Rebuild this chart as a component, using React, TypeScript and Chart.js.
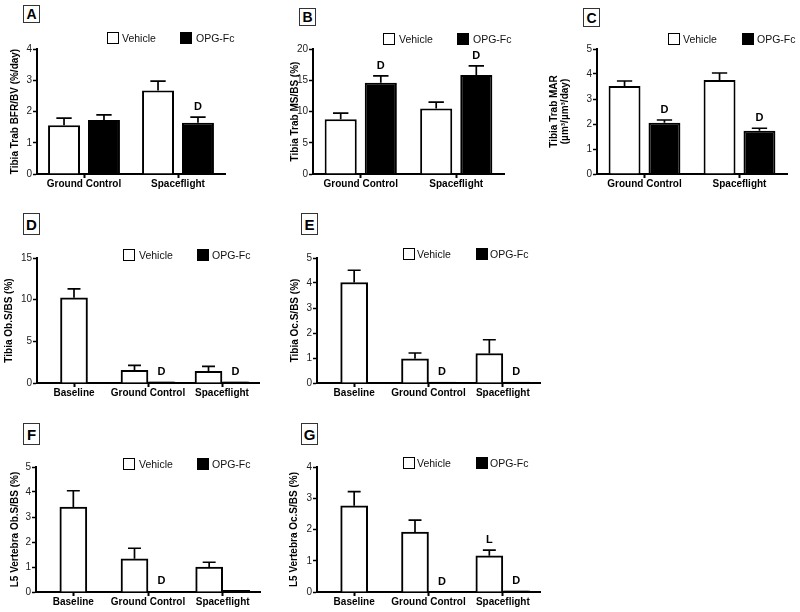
import React, { useEffect, useRef } from "react";
import { Chart, registerables } from "chart.js";

Chart.register(...registerables);

const FONT = "'Liberation Sans', Arial, Helvetica, sans-serif";

// ---------- data ----------
const catsTop = ["Ground Control", "Spaceflight"];
const catsBottom = ["Baseline", "Ground Control", "Spaceflight"];
const seriesNames = ["Vehicle", "OPG-Fc"];

// A: Tibia Trab BFR/BV (%/day)
const aVehicle = [1.56, 2.67];
const aVehicleErr = [0.23, 0.3];
const aOpg = [1.73, 1.64];
const aOpgErr = [0.16, 0.18];
const aOpgMarks = ["", "D"];

// B: Tibia Trab MS/BS (%)
const bVehicle = [8.75, 10.5];
const bVehicleErr = [1.0, 1.0];
const bOpg = [14.6, 15.85];
const bOpgErr = [1.1, 1.45];
const bOpgMarks = ["D", "D"];

// C: Tibia Trab MAR
const cVehicle = [3.52, 3.76];
const cVehicleErr = [0.2, 0.28];
const cOpg = [2.05, 1.73];
const cOpgErr = [0.11, 0.1];
const cOpgMarks = ["D", "D"];

// D: Tibia Ob.S/BS (%)
const dVehicle = [10.23, 1.51, 1.39];
const dVehicleErr = [1.07, 0.6, 0.6];
const dOpg = [null, 0.15, 0.15];
const dOpgMarks = ["", "D", "D"];

// E: Tibia Oc.S/BS (%)
const eVehicle = [4.02, 0.97, 1.18];
const eVehicleErr = [0.49, 0.23, 0.55];
const eOpg = [null, 0.04, 0.04];
const eOpgMarks = ["", "D", "D"];

// F: L5 Vertebra Ob.S/BS (%)
const fVehicle = [3.4, 1.33, 1.0];
const fVehicleErr = [0.65, 0.42, 0.19];
const fOpg = [null, 0.03, 0.07];
const fOpgMarks = ["", "D", ""];

// G: L5 Vertebra Oc.S/BS (%)
const gVehicle = [2.76, 1.92, 1.16];
const gVehicleErr = [0.45, 0.38, 0.18];
const gVehicleMarks = ["", "", "L"];
const gOpg = [null, 0, 0.04];
const gOpgMarks = ["", "D", "D"];

// ---------- plugin: error bars + significance letters ----------
const errorBarPlugin = {
  id: "errorBars",
  afterDatasetsDraw(chart: any) {
    const ctx = chart.ctx;
    const ys = chart.scales.y;
    chart.data.datasets.forEach((ds: any, i: number) => {
      const meta = chart.getDatasetMeta(i);
      const errs = ds.errors || [];
      const marks = ds.marks || [];
      meta.data.forEach((el: any, j: number) => {
        const v = ds.data[j];
        if (v == null) return;
        const { x, width } = el.getProps(["x", "width"], true);
        const base = ys.getPixelForValue(v);
        let top = base;
        const e = errs[j];
        if (e) {
          top = ys.getPixelForValue(v + e);
          ctx.save();
          ctx.strokeStyle = "#000";
          ctx.lineWidth = 1.7;
          ctx.beginPath();
          ctx.moveTo(x, base);
          ctx.lineTo(x, top);
          const cw = width * 0.24;
          ctx.moveTo(x - cw, top);
          ctx.lineTo(x + cw, top);
          ctx.stroke();
          ctx.restore();
        }
        const m = marks[j];
        if (m) {
          ctx.save();
          ctx.fillStyle = "#000";
          ctx.font = `bold 11px ${FONT}`;
          ctx.textAlign = "center";
          ctx.textBaseline = "middle";
          ctx.fillText(m, x, top - 10);
          ctx.restore();
        }
      });
    });
  },
};

type Cfg = {
  cats: string[];
  area: { x0: number; x1: number; y0: number; y1: number };
  canvas: { left: number; top: number; w: number; h: number };
  titleX: number;
  title: string | string[];
  max: number;
  step: number;
  vehicle: (number | null)[];
  vehicleErr: number[];
  vehicleMarks?: string[];
  opg: (number | null)[];
  opgErr?: number[];
  opgMarks?: string[];
  barThickness?: number;
  catPct?: number;
  barPct?: number;
};

function BarPanel({ cfg }: { cfg: Cfg }) {
  const ref = useRef<HTMLCanvasElement>(null);
  const c = cfg.canvas;
  useEffect(() => {
    const a = cfg.area;
    const lh = 11;
    const barOpts: any = cfg.barThickness
      ? { barThickness: cfg.barThickness, skipNull: true }
      : { categoryPercentage: cfg.catPct, barPercentage: cfg.barPct };
    const chart = new Chart(ref.current as HTMLCanvasElement, {
      type: "bar",
      data: {
        labels: cfg.cats,
        datasets: [
          {
            label: seriesNames[0],
            data: cfg.vehicle,
            errors: cfg.vehicleErr,
            marks: cfg.vehicleMarks,
            backgroundColor: "#ffffff",
            borderColor: "#000000",
            borderWidth: 2,
            ...barOpts,
          } as any,
          {
            label: seriesNames[1],
            data: cfg.opg,
            errors: cfg.opgErr,
            marks: cfg.opgMarks,
            backgroundColor: "#000000",
            borderColor: "#000000",
            borderWidth: 2,
            ...barOpts,
          } as any,
        ],
      },
      options: {
        responsive: false,
        maintainAspectRatio: false,
        animation: false,
        devicePixelRatio: 1,
        layout: {
          padding: {
            left: 0,
            top: a.y0 - c.top,
            right: c.left + c.w - a.x1,
            bottom: 0,
          },
        },
        plugins: {
          legend: { display: false },
          tooltip: { enabled: false },
        },
        scales: {
          x: {
            type: "category",
            offset: true,
            grid: {
              display: true,
              offset: false,
              drawOnChartArea: false,
              drawTicks: true,
              tickLength: 4,
              tickColor: "#000",
              tickWidth: 2,
            },
            border: { display: true, color: "#000", width: 2 },
            ticks: {
              font: { family: FONT, size: 10, weight: "bold" },
              color: "#000",
              padding: 0,
              maxRotation: 0,
              minRotation: 0,
              autoSkip: false,
            },
            afterFit: (s: any) => {
              s.height = c.top + c.h - a.y1;
            },
          },
          y: {
            min: 0,
            max: cfg.max,
            ticks: {
              stepSize: cfg.step,
              font: { family: FONT, size: 10 },
              color: "#222",
              padding: 1,
            },
            grid: {
              drawOnChartArea: false,
              drawTicks: true,
              tickLength: 4,
              tickColor: "#000",
              tickWidth: 1.5,
            },
            border: { display: true, color: "#000", width: 2 },
            title: {
              display: true,
              text: cfg.title,
              color: "#000",
              font: { family: FONT, size: 10, weight: "bold", lineHeight: lh / 10 },
              padding: { top: cfg.titleX - c.left - lh / 2, bottom: 0 },
            },
            afterFit: (s: any) => {
              s.width = a.x0 - c.left;
            },
          },
        },
      } as any,
      plugins: [errorBarPlugin],
    });
    return () => chart.destroy();
  }, []);
  return (
    <canvas
      ref={ref}
      width={c.w}
      height={c.h}
      style={{ position: "absolute", left: c.left, top: c.top, width: c.w, height: c.h }}
    />
  );
}

function PanelLetter({ ch, left, top, w, h, size }: any) {
  return (
    <div
      style={{
        position: "absolute",
        left,
        top,
        width: w,
        height: h,
        boxSizing: "border-box",
        border: "1px solid #333",
        display: "flex",
        alignItems: "center",
        justifyContent: "center",
        fontFamily: FONT,
        fontWeight: "bold",
        fontSize: size,
        color: "#000",
        lineHeight: 1,
      }}
    >
      {ch}
    </div>
  );
}

function Legend({ top, b1, t1, b2, t2 }: any) {
  const box = (left: number, fill: string) => (
    <div
      style={{
        position: "absolute",
        left,
        top,
        width: 12,
        height: 12,
        boxSizing: "border-box",
        border: "1.5px solid #000",
        background: fill,
      }}
    />
  );
  const txt = (left: number, s: string) => (
    <div
      style={{
        position: "absolute",
        left,
        top: top - 1,
        height: 14,
        lineHeight: "14px",
        fontFamily: FONT,
        fontSize: 10.5,
        color: "#111",
        whiteSpace: "nowrap",
      }}
    >
      {s}
    </div>
  );
  return (
    <>
      {box(b1, "#fff")}
      {txt(t1, seriesNames[0])}
      {box(b2, "#000")}
      {txt(t2, seriesNames[1])}
    </>
  );
}

const panels: Cfg[] = [
  {
    cats: catsTop,
    area: { x0: 37, x1: 225, y0: 49, y1: 174 },
    canvas: { left: 0, top: 40, w: 250, h: 160 },
    titleX: 15,
    title: "Tibia Trab BFR/BV (%/day)",
    max: 4,
    step: 1,
    vehicle: aVehicle,
    vehicleErr: aVehicleErr,
    opg: aOpg,
    opgErr: aOpgErr,
    opgMarks: aOpgMarks,
    catPct: 0.85,
    barPct: 0.8,
  },
  {
    cats: catsTop,
    area: { x0: 313, x1: 504, y0: 49, y1: 174 },
    canvas: { left: 262, top: 40, w: 260, h: 160 },
    titleX: 295,
    title: "Tibia Trab MS/BS (%)",
    max: 20,
    step: 5,
    vehicle: bVehicle,
    vehicleErr: bVehicleErr,
    opg: bOpg,
    opgErr: bOpgErr,
    opgMarks: bOpgMarks,
    catPct: 0.84,
    barPct: 0.8,
  },
  {
    cats: catsTop,
    area: { x0: 597, x1: 787, y0: 49, y1: 174 },
    canvas: { left: 540, top: 40, w: 258, h: 160 },
    titleX: 554,
    title: ["Tibia Trab MAR", "(µm³/µm³/day)"],
    max: 5,
    step: 1,
    vehicle: cVehicle,
    vehicleErr: cVehicleErr,
    opg: cOpg,
    opgErr: cOpgErr,
    opgMarks: cOpgMarks,
    catPct: 0.84,
    barPct: 0.8,
  },
  {
    cats: catsBottom,
    area: { x0: 37, x1: 259, y0: 258, y1: 383 },
    canvas: { left: 0, top: 250, w: 275, h: 160 },
    titleX: 9,
    title: "Tibia Ob.S/BS (%)",
    max: 15,
    step: 5,
    vehicle: dVehicle,
    vehicleErr: dVehicleErr,
    opg: dOpg,
    opgMarks: dOpgMarks,
    barThickness: 27,
  },
  {
    cats: catsBottom,
    area: { x0: 317, x1: 540, y0: 258, y1: 383 },
    canvas: { left: 280, top: 250, w: 275, h: 160 },
    titleX: 295,
    title: "Tibia Oc.S/BS (%)",
    max: 5,
    step: 1,
    vehicle: eVehicle,
    vehicleErr: eVehicleErr,
    opg: eOpg,
    opgMarks: eOpgMarks,
    barThickness: 27,
  },
  {
    cats: catsBottom,
    area: { x0: 36, x1: 260, y0: 467, y1: 592 },
    canvas: { left: 0, top: 460, w: 275, h: 152 },
    titleX: 15,
    title: "L5 Vertebra Ob.S/BS (%)",
    max: 5,
    step: 1,
    vehicle: fVehicle,
    vehicleErr: fVehicleErr,
    opg: fOpg,
    opgMarks: fOpgMarks,
    barThickness: 27,
  },
  {
    cats: catsBottom,
    area: { x0: 317, x1: 540, y0: 467, y1: 592 },
    canvas: { left: 280, top: 460, w: 275, h: 152 },
    titleX: 294,
    title: "L5 Vertebra Oc.S/BS (%)",
    max: 4,
    step: 1,
    vehicle: gVehicle,
    vehicleErr: gVehicleErr,
    vehicleMarks: gVehicleMarks,
    opg: gOpg,
    opgMarks: gOpgMarks,
    barThickness: 27,
  },
];

export default function App() {
  return (
    <div
      style={{
        position: "absolute",
        left: 0,
        top: 0,
        width: 800,
        height: 612,
        background: "#fff",
        overflow: "hidden",
      }}
    >
      {panels.map((p, i) => (
        <BarPanel key={i} cfg={p} />
      ))}
      <PanelLetter ch="A" left={23} top={5} w={17} h={18} size={14} />
      <PanelLetter ch="B" left={299} top={8} w={17} h={18} size={14} />
      <PanelLetter ch="C" left={583} top={8} w={17} h={19} size={14} />
      <PanelLetter ch="D" left={23} top={213} w={17} h={22} size={15} />
      <PanelLetter ch="E" left={301} top={213} w={17} h={22} size={15} />
      <PanelLetter ch="F" left={23} top={423} w={17} h={22} size={15} />
      <PanelLetter ch="G" left={301} top={423} w={17} h={22} size={15} />
      <Legend top={32} b1={107} t1={122} b2={180} t2={196} />
      <Legend top={33} b1={383} t1={399} b2={457} t2={473} />
      <Legend top={33} b1={668} t1={683} b2={742} t2={757} />
      <Legend top={249} b1={123} t1={139} b2={197} t2={212} />
      <Legend top={248} b1={403} t1={417} b2={476} t2={490} />
      <Legend top={458} b1={123} t1={139} b2={197} t2={212} />
      <Legend top={457} b1={403} t1={417} b2={476} t2={490} />
    </div>
  );
}
